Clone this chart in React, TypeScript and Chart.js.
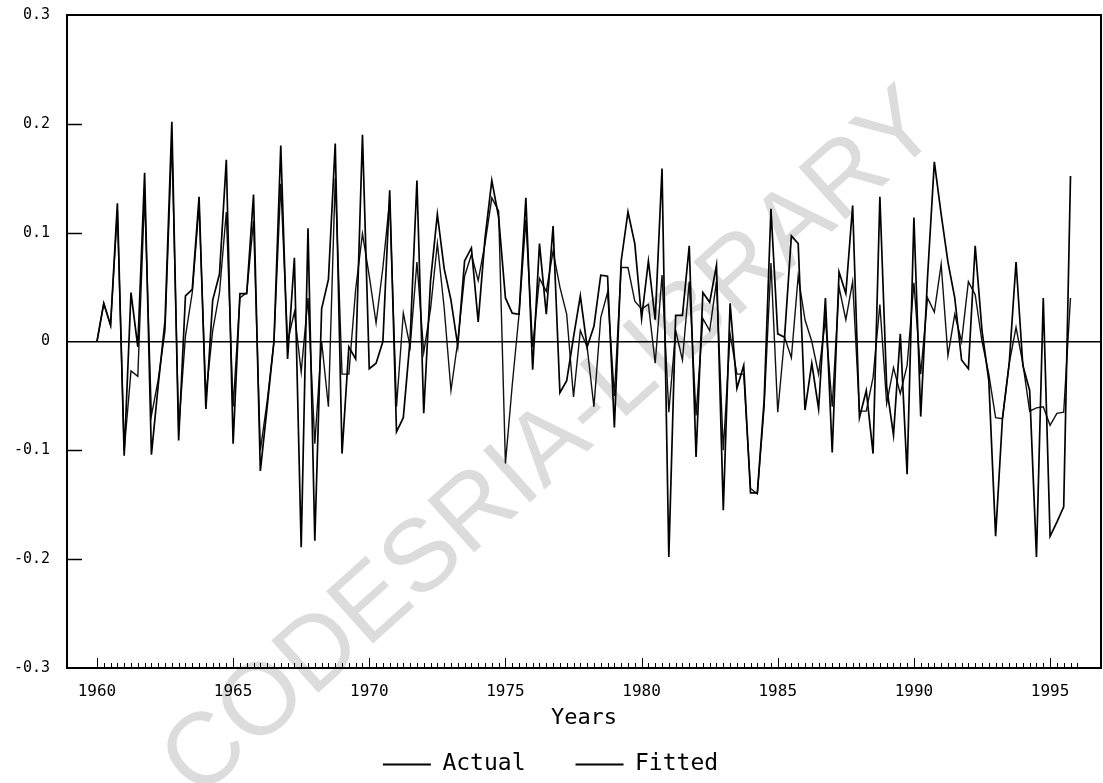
import { useEffect, useRef } from 'react';
import { Chart, registerables } from 'chart.js';

Chart.register(...registerables);

const START_YEAR = 1960;

const actual = [
  0, 0.035, 0.015, 0.127, -0.105, 0.045, -0.005, 0.155, -0.104, -0.04,
  0.019, 0.202, -0.091, 0.042, 0.048, 0.133, -0.062, 0.038, 0.062, 0.167,
  -0.094, 0.044, 0.044, 0.135, -0.119, -0.06, 0.0, 0.18, -0.016, 0.077,
  -0.189, 0.104, -0.183, 0.03, 0.057, 0.182, -0.103, -0.005, -0.016, 0.19,
  -0.025, -0.02, 0.0, 0.139, -0.083, -0.07, 0.002, 0.148, -0.066, 0.056,
  0.117, 0.067, 0.038, -0.004, 0.074, 0.086, 0.018, 0.095, 0.148, 0.114,
  0.04, 0.026, 0.025, 0.132, -0.026, 0.09, 0.025, 0.106, -0.047, -0.036,
  0.004, 0.042, -0.005, 0.014, 0.061, 0.06, -0.079, 0.074, 0.119, 0.09,
  0.021, 0.074, 0.02, 0.159, -0.198, 0.024, 0.024, 0.088, -0.106, 0.045,
  0.036, 0.07, -0.155, 0.035, -0.043, -0.022, -0.139, -0.139, -0.054, 0.122,
  0.007, 0.004, 0.097, 0.09, -0.063, -0.02, -0.062, 0.04, -0.102, 0.064,
  0.044, 0.125, -0.07, -0.045, -0.103, 0.133, -0.042, -0.086, 0.007, -0.122,
  0.114, -0.069, 0.059, 0.165, 0.117, 0.073, 0.04, -0.017, -0.025, 0.088,
  0.01, -0.036, -0.179, -0.071, -0.02, 0.073, -0.022, -0.045, -0.198, 0.04,
  -0.179, -0.166, -0.152, 0.152,
];

const fitted = [
  0, 0.035, 0.015, 0.12, -0.1, -0.027, -0.032, 0.135, -0.068, -0.035,
  0.01, 0.185, -0.08, 0.005, 0.045, 0.125, -0.05, 0.01, 0.045, 0.119,
  -0.06, 0.04, 0.045, 0.111, -0.1, -0.055, 0.0, 0.145, 0.0, 0.027,
  -0.028, 0.04, -0.094, 0.0, -0.06, 0.15, -0.03, -0.03, 0.048, 0.099,
  0.06, 0.017, 0.068, 0.13, -0.06, 0.026, -0.005, 0.073, -0.01, 0.03,
  0.09, 0.031, -0.045, 0.0, 0.06, 0.08, 0.056, 0.09, 0.132, 0.12,
  -0.112, -0.04, 0.025, 0.112, -0.005, 0.058, 0.046, 0.083, 0.05, 0.025,
  -0.051, 0.01, -0.005, -0.06, 0.022, 0.045, -0.05, 0.068, 0.068, 0.037,
  0.03, 0.034, -0.02, 0.061, -0.065, 0.01, -0.017, 0.055, -0.068, 0.021,
  0.01, 0.055, -0.1, 0.007, -0.03, -0.03, -0.135, -0.14, -0.06, 0.072,
  -0.065, 0.004, -0.015, 0.06, 0.02, 0.0, -0.03, 0.02, -0.06, 0.05,
  0.02, 0.055, -0.064, -0.064, -0.033, 0.034, -0.057, -0.024, -0.048, -0.022,
  0.054, -0.03, 0.04, 0.027, 0.071, -0.013, 0.025, 0.0, 0.055, 0.043,
  0.0, -0.03, -0.07, -0.071, -0.02, 0.013, -0.02, -0.064, -0.061, -0.06,
  -0.077, -0.066, -0.065, 0.04,
];

const seriesLabels = ['Actual', 'Fitted'];
const xTickYears = [1960, 1965, 1970, 1975, 1980, 1985, 1990, 1995];
const yTickValues = [-0.3, -0.2, -0.1, 0, 0.1, 0.2, 0.3];
const xTitle = 'Years';
const watermarkText = 'CODESRIA-LIBRARY';

const MONO = "'DejaVu Sans Mono', monospace";

export default function App() {
  const ref = useRef<HTMLCanvasElement>(null);

  useEffect(() => {
    const canvas = ref.current;
    if (!canvas) return;
    const periods = actual.map((_, i) => START_YEAR + i / 4);
    const toPoints = (vals: number[]) => vals.map((y, i) => ({ x: periods[i], y }));

    const decor = {
      id: 'decor',
      beforeDraw(chart: any) {
        const ctx = chart.ctx;
        ctx.save();
        ctx.translate(552, 445);
        ctx.rotate((-41.9 * Math.PI) / 180);
        ctx.font = "102px 'Liberation Sans', Arial, sans-serif";
        ctx.fillStyle = '#dcdcdc';
        ctx.textAlign = 'center';
        ctx.textBaseline = 'middle';
        ctx.fillText(watermarkText, 0, 0);
        ctx.restore();
      },
      afterDatasetsDraw(chart: any) {
        const { ctx, chartArea: a, scales } = chart;
        ctx.save();
        ctx.strokeStyle = '#000';
        ctx.lineWidth = 1.5;
        yTickValues.forEach((v) => {
          if (v !== 0 && Math.abs(v) < 0.25) {
            const py = Math.round(scales.y.getPixelForValue(v)) + 0.5;
            ctx.beginPath();
            ctx.moveTo(a.left, py);
            ctx.lineTo(a.left + 15, py);
            ctx.stroke();
          }
        });
        ctx.lineWidth = 1;
        const last = xTickYears[xTickYears.length - 1] + 1;
        const nQ = (last - START_YEAR) * 4;
        for (let k = 0; k <= nQ; k++) {
          const t = START_YEAR + k / 4;
          const px = Math.round(scales.x.getPixelForValue(t)) + 0.5;
          const major = k % 20 === 0;
          ctx.beginPath();
          ctx.moveTo(px, a.bottom);
          ctx.lineTo(px, a.bottom - (major ? 10 : 5));
          ctx.stroke();
        }
        ctx.lineWidth = 2;
        ctx.strokeRect(a.left, a.top, a.right - a.left, a.bottom - a.top);
        ctx.restore();
      },
    };

    const defaultLabels = (Chart.defaults as any).plugins.legend.labels.generateLabels;

    const chart = new Chart(canvas, {
      type: 'line',
      data: {
        datasets: [
          {
            label: seriesLabels[0],
            data: toPoints(actual),
            borderColor: '#000',
            backgroundColor: '#000',
            borderWidth: 1.7,
            pointRadius: 0,
            tension: 0,
          },
          {
            label: seriesLabels[1],
            data: toPoints(fitted),
            borderColor: '#111',
            backgroundColor: '#111',
            borderWidth: 1.4,
            pointRadius: 0,
            tension: 0,
          },
        ],
      },
      options: {
        animation: false,
        responsive: false,
        devicePixelRatio: 1,
        color: '#000',
        layout: { padding: { left: 0, right: 2, top: 15, bottom: -3 } },
        plugins: {
          legend: {
            position: 'bottom',
            labels: {
              font: { family: MONO, size: 23 },
              color: '#000',
              boxWidth: 48,
              boxHeight: 2,
              padding: 50,
              generateLabels: (c: any) =>
                defaultLabels(c).map((l: any) => ({ ...l, lineWidth: 0, fillStyle: '#000' })),
            },
          },
          tooltip: { enabled: false },
        },
        scales: {
          x: {
            type: 'linear',
            min: 1958.9,
            max: 1996.87,
            afterBuildTicks: (ax: any) => {
              ax.ticks = xTickYears.map((v) => ({ value: v }));
            },
            afterFit: (s: any) => {
              s.height = 35;
            },
            grid: { display: false, drawTicks: false },
            border: { display: true, color: '#000', width: 2 },
            ticks: {
              font: { family: MONO, size: 16 },
              color: '#000',
              padding: 14,
              maxRotation: 0,
              autoSkip: false,
              callback: (v: any) => String(v),
            },
            title: {
              display: true,
              text: xTitle,
              font: { family: MONO, size: 22 },
              color: '#000',
              padding: { top: 0, bottom: -28 },
            },
          },
          y: {
            min: -0.3,
            max: 0.3,
            afterBuildTicks: (ax: any) => {
              ax.ticks = yTickValues.map((v) => ({ value: v }));
            },
            afterFit: (s: any) => {
              s.width = 67;
              s.paddingTop = 0;
              s.paddingBottom = 0;
            },
            grid: {
              drawTicks: false,
              color: (c: any) => (c.tick && Math.abs(c.tick.value) < 1e-9 ? '#000' : 'rgba(0,0,0,0)'),
              lineWidth: 1.5,
            },
            border: { display: true, color: '#000', width: 2 },
            ticks: {
              font: { family: MONO, size: 15 },
              color: '#000',
              padding: 17,
              callback: (v: any) => {
                const r = Math.round(Number(v) * 10) / 10;
                return r === 0 ? '0' : r.toFixed(1);
              },
            },
          },
        },
      },
      plugins: [decor],
    } as any);

    return () => chart.destroy();
  }, []);

  return (
    <div style={{ position: 'absolute', left: 0, top: 0, width: 1103, height: 783, background: '#fff' }}>
      <canvas ref={ref} width={1103} height={783} style={{ display: 'block' }} />
    </div>
  );
}
